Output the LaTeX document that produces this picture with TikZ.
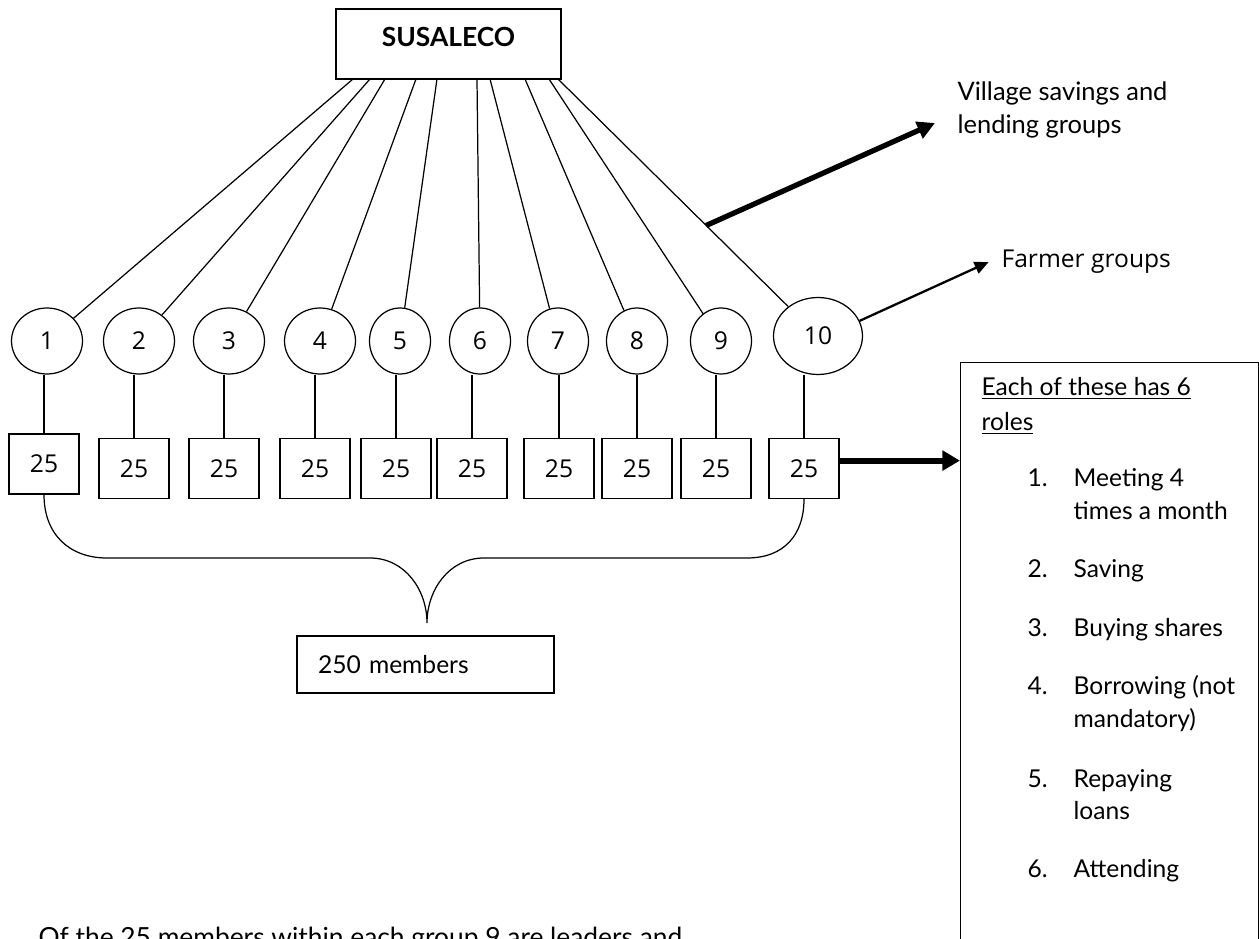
\documentclass[tikz,border=0pt]{standalone}
\usepackage{fontspec}
\setmainfont{Lato}
\newfontfamily\numfont{Open Sans}
\usetikzlibrary{shapes.geometric, positioning, arrows.meta, calc}

\begin{document}
\begin{tikzpicture}[x=0.02cm, y=-0.02cm, line width=0.7pt, font=\fontsize{14}{18}\selectfont]
              \tikzset{
                grupo/.style={draw, ellipse, inner sep=0pt, minimum width=1.42cm, minimum height=1.32cm, font=\numfont\fontsize{14}{16}\selectfont},
                caja/.style={draw, rectangle, minimum width=1.4cm, minimum height=1.2cm, font=\numfont\fontsize{14}{16}\selectfont},
                texto/.style={anchor=base west, inner sep=0pt, font=\fontsize{14}{18}\selectfont},
                flecha/.style={-{Triangle[length=8pt, width=7pt]}, line width=1.3pt},
                gruesa/.style={-{Triangle[length=10pt, width=10pt]}, line width=3pt}
              }
              \useasboundingbox (0,0) rectangle (1259,939);

              % Nodo principal
              \node[draw, minimum width=4.5cm, minimum height=1.4cm, text depth=0.3cm, font=\fontsize{15}{18}\selectfont\bfseries] (sus) at (448.5,44) {SUSALECO};

              % Grupos de ahorro
              \node[grupo] (c1) at (47,341) {1};
              \node[grupo] (c2) at (139,341) {2};
              \node[grupo] (c3) at (229,341) {3};
              \node[grupo] (c4) at (320,341) {4};
              \node[grupo, minimum width=1.22cm] (c5) at (400,341) {5};
              \node[grupo, minimum width=1.22cm] (c6) at (480,341) {6};
              \node[grupo, minimum width=1.22cm] (c7) at (558,341) {7};
              \node[grupo, minimum width=1.22cm] (c8) at (637,341) {8};
              \node[grupo, minimum width=1.22cm] (c9) at (721,341) {9};
              \node[grupo, minimum width=1.78cm, minimum height=1.54cm] (c10) at (818,336) {10};

              % Miembros de cada grupo
              \node[caja] (b1) at (44,464) {25};
              \node[caja] (b2) at (134,468.5) {25};
              \node[caja] (b3) at (224,468.5) {25};
              \node[caja] (b4) at (315,468.5) {25};
              \node[caja] (b5) at (396,468.5) {25};
              \node[caja] (b6) at (472,468.5) {25};
              \node[caja] (b7) at (559,468.5) {25};
              \node[caja] (b8) at (637,468.5) {25};
              \node[caja] (b9) at (716,468.5) {25};
              \node[caja] (b10) at (804,468.5) {25};

              % Puntos de salida bajo SUSALECO
              \coordinate (t1) at (353,79);
              \coordinate (t2) at (370,79);
              \coordinate (t3) at (385,79);
              \coordinate (t4) at (416,79);
              \coordinate (t5) at (437,79);
              \coordinate (t6) at (477,79);
              \coordinate (t7) at (490,79);
              \coordinate (t8) at (525,79);
              \coordinate (t9) at (549,79);
              \coordinate (t10) at (558,79);

              % Lineas hacia los grupos
              \path[draw]
                  (t1) edge (c1)
                  (t2) edge (c2)
                  (t3) edge (c3)
                  (t4) edge (c4)
                  (t5) edge (c5)
                  (t6) edge (c6)
                  (t7) edge (c7)
                  (t8) edge (c8)
                  (t9) edge (c9)
                  (t10) edge (c10);

              % Lineas hacia los miembros
              \path[draw]
                  (b1.north) edge (b1.north |- c1.south)
                  (b2.north) edge (b2.north |- c2.south)
                  (b3.north) edge (b3.north |- c3.south)
                  (b4.north) edge (b4.north |- c4.south)
                  (b5.north) edge (b5.north |- c5.south)
                  (b6.north) edge (b6.north |- c6.south)
                  (b7.north) edge (b7.north |- c7.south)
                  (b8.north) edge (b8.north |- c8.south)
                  (b9.north) edge (b9.north |- c9.south)
                  (b10.north) edge (b10.north |- c10.south);

              % Llave y total
              \draw (b1.south) .. controls (44,535) and (70,558) .. (107,558) -- (370,558)
                  .. controls (405,558) and (427,590) .. (427,623)
                  .. controls (427,590) and (449,558) .. (484,558) -- (747,558)
                  .. controls (784,558) and (804,535) .. (b10.south);
              \node[draw, minimum width=5.14cm, minimum height=1.14cm, text width=4.3cm, inner xsep=0.42cm, align=left] (total) at (425.5,664.5) {250 members};

              % Etiquetas
              \node[texto, font=\fontsize{14.5}{18}\selectfont] (vsla1) at (957,101) {Village savings and};
              \node[texto, font=\fontsize{14.5}{18}\selectfont] (vsla2) at (957,134) {lending groups};
              \node[anchor=west, inner sep=0pt, font=\numfont\fontsize{14}{16}\selectfont] (farmer) at (1001,262) {Farmer groups};
              \coordinate (puntaA) at (935,123);
              \draw[gruesa] ($(t10)!0.57!(c10)$) -- (puntaA);
              \draw[flecha] (c10.20) -- ([xshift=-7pt]farmer.west);

              % Cuadro de roles
              \node[draw, anchor=north west, minimum width=5.96cm, minimum height=12cm] (panel) at (960,362) {};
              \draw[gruesa, line width=3.4pt, -{Triangle[length=10pt, width=11pt]}] ([yshift=4.5pt]b10.east) -- ([yshift=4.5pt]b10.east -| panel.west);
              \node[texto] (titulo1) at (981,396) {\underline{Each of these has 6}};
              \node[texto] (titulo2) at (981,431) {\underline{roles}};
              \node[texto] (n1) at (1027,487) {1.};
              \node[texto] (r1a) at (1073,487) {Meeting 4};
              \node[texto] (r1b) at (1073,520) {times a month};
              \node[texto] (n2) at (1027,578) {2.};
              \node[texto] (r2) at (1073,578) {Saving};
              \node[texto] (n3) at (1027,636) {3.};
              \node[texto] (r3) at (1073,636) {Buying shares};
              \node[texto] (n4) at (1027,694) {4.};
              \node[texto] (r4a) at (1073,694) {Borrowing (not};
              \node[texto] (r4b) at (1073,727) {mandatory)};
              \node[texto] (n5) at (1027,787) {5.};
              \node[texto] (r5a) at (1073,787) {Repaying};
              \node[texto] (r5b) at (1073,819) {loans};
              \node[texto] (n6) at (1027,877) {6.};
              \node[texto] (r6) at (1073,877) {Attending};

              % Nota inferior
              \node[texto, font=\fontsize{15}{18}\selectfont] (nota) at (38,946) {Of the 25 members within each group 9 are leaders and};

          \end{tikzpicture}
\end{document}
